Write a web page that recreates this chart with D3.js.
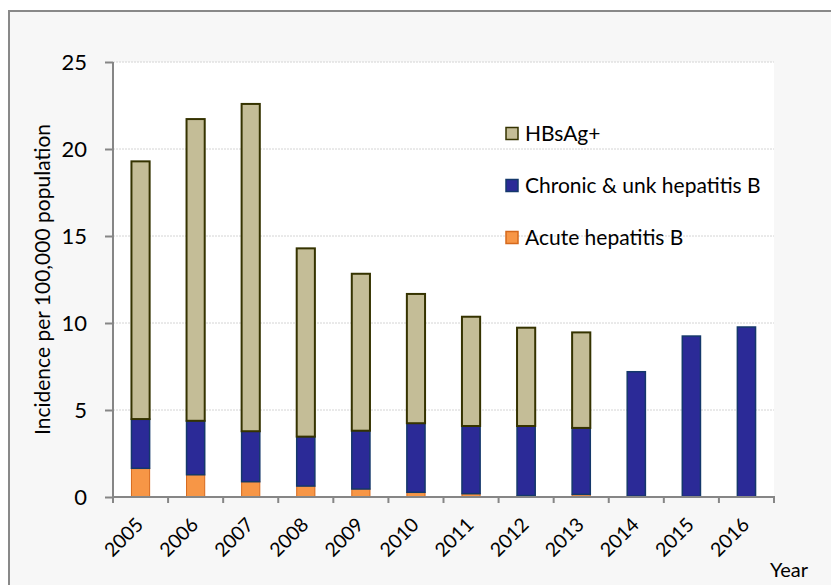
<!DOCTYPE html>
<html>
<head>
<meta charset="utf-8">
<script src="https://cdn.jsdelivr.net/npm/d3@7"></script>
<style>
  body { margin: 0; background: #fff; }
  text { font-family: Lato, "Open Sans", sans-serif; fill: #000; }
</style>
</head>
<body>
<div id="chart-area"></div>
<script>
// data
var years = ["2005","2006","2007","2008","2009","2010","2011","2012","2013","2014","2015","2016"];
var acute = [1.65, 1.28, 0.88, 0.63, 0.46, 0.27, 0.19, 0.08, 0.15, 0.05, 0.03, 0];
var chronic = [2.83, 3.10, 2.90, 2.84, 3.35, 3.97, 3.89, 4.00, 3.82, 7.15, 9.22, 9.77];
var hbsag = [14.81, 17.34, 18.81, 10.82, 9.02, 7.43, 6.28, 5.65, 5.49, 0, 0, 0];
var yTicks = [0, 5, 10, 15, 20, 25];

var keys = ["acute", "chronic", "hbsag"];
var legendLabels = {hbsag: "HBsAg+", chronic: "Chronic & unk hepatitis B", acute: "Acute hepatitis B"};
var fills = {acute: "#f79646", chronic: "#2b2a97", hbsag: "#c4bd97"};
var strokes = {acute: "#d5691c", chronic: "#14386b", hbsag: "#353300"};
var strokeW = {acute: 1, chronic: 1.5, hbsag: 2};

var W = 831, H = 585;
var margin = {left: 113, top: 62, right: 57, bottom: 88};
var width = W - margin.left - margin.right;
var height = H - margin.top - margin.bottom;

var table = years.map(function(y, i) {
    return {year: y, acute: acute[i], chronic: chronic[i], hbsag: hbsag[i]};
});

var svg = d3.select("#chart-area").append("svg")
    .attr("width", W)
    .attr("height", H);

// chart frame
svg.append("rect")
    .attr("x", 9).attr("y", 11)
    .attr("width", W + 10).attr("height", H + 10)
    .attr("fill", "#f7f7f7")
    .attr("stroke", "#898989")
    .attr("stroke-width", 2);

var g = svg.append("g")
    .attr("transform", "translate(" + margin.left + "," + margin.top + ")");

g.append("rect")
    .attr("width", width).attr("height", height)
    .attr("fill", "#fff");

var x = d3.scaleBand()
    .domain(years)
    .range([0, width])
    .paddingInner(0.67)
    .paddingOuter(0.335);

var xCat = d3.scaleBand()
    .domain(years)
    .range([0, width])
    .padding(0);

var y = d3.scaleLinear()
    .domain([0, 25])
    .range([height, 0]);

// gridlines
g.selectAll(".grid")
    .data(yTicks.filter(function(d) { return d > 0; }))
    .enter().append("line")
    .attr("x1", 0).attr("x2", width)
    .attr("y1", function(d) { return y(d); })
    .attr("y2", function(d) { return y(d); })
    .attr("stroke", "#d4d4d4")
    .attr("stroke-dasharray", "2,1")
    .attr("stroke-width", 1);

// stacked bars
var series = d3.stack().keys(keys)(table);

g.selectAll(".layer")
    .data(series)
    .enter().append("g")
    .attr("class", "layer")
    .attr("fill", function(d) { return fills[d.key]; })
    .attr("stroke", function(d) { return strokes[d.key]; })
    .attr("stroke-width", function(d) { return strokeW[d.key]; })
  .selectAll("rect")
    .data(function(d) { return d.filter(function(p) { return p[1] - p[0] > 0; }); })
    .enter().append("rect")
    .attr("x", function(d) { return x(d.data.year); })
    .attr("y", function(d) { return y(d[1]); })
    .attr("width", x.bandwidth())
    .attr("height", function(d) { return y(d[0]) - y(d[1]); });

// y axis
var leftAxis = d3.axisLeft(y).tickValues(yTicks).tickSize(8).tickPadding(18);
var ya = g.append("g").attr("class", "left axis").call(leftAxis);
ya.select(".domain").attr("stroke", "#868686").attr("stroke-width", 2)
    .attr("d", "M0," + (height + 1) + "V0");
ya.selectAll(".tick line").attr("stroke", "#868686").attr("stroke-width", 2);
ya.selectAll("text").attr("font-size", "22px").style("font-family", "Lato, sans-serif");

// x axis
var xa = g.append("g")
    .attr("transform", "translate(0," + height + ")");
xa.append("line")
    .attr("x1", -1).attr("x2", width + 1)
    .attr("stroke", "#868686").attr("stroke-width", 2);
xa.selectAll(".xt")
    .data(years.concat(["end"]))
    .enter().append("line")
    .attr("x1", function(d) { return d === "end" ? width : xCat(d); })
    .attr("x2", function(d) { return d === "end" ? width : xCat(d); })
    .attr("y1", 0).attr("y2", 6)
    .attr("stroke", "#868686").attr("stroke-width", 2);
xa.selectAll(".xl")
    .data(years)
    .enter().append("text")
    .attr("text-anchor", "end")
    .attr("font-size", "19.5px")
    .attr("transform", function(d) {
        return "translate(" + (xCat(d) + xCat.bandwidth() / 2 + 4) + ",29) rotate(-45)";
    })
    .text(function(d) { return d; });

// axis titles
svg.append("text")
    .attr("transform", "translate(50," + (margin.top + height / 2) + ") rotate(-90)")
    .attr("text-anchor", "middle")
    .attr("font-size", "21px")
    .text("Incidence per 100,000 population");

svg.append("text")
    .attr("x", 770).attr("y", 577)
    .attr("font-size", "20px")
    .text("Year");

// legend
var legend = svg.append("g").attr("transform", "translate(506,133)");
var legKeys = ["hbsag", "chronic", "acute"];
var li = legend.selectAll(".li")
    .data(legKeys)
    .enter().append("g")
    .attr("transform", function(d, i) { return "translate(0," + (i * 52) + ")"; });
li.append("rect")
    .attr("x", 0).attr("y", -5.5)
    .attr("width", 12).attr("height", 12)
    .attr("fill", function(d) { return fills[d]; })
    .attr("stroke", function(d) { return strokes[d]; })
    .attr("stroke-width", 1.5);
li.append("text")
    .attr("x", 19).attr("y", 7.5)
    .attr("font-size", "21px")
    .text(function(d) { return legendLabels[d]; });
</script>
</body>
</html>
